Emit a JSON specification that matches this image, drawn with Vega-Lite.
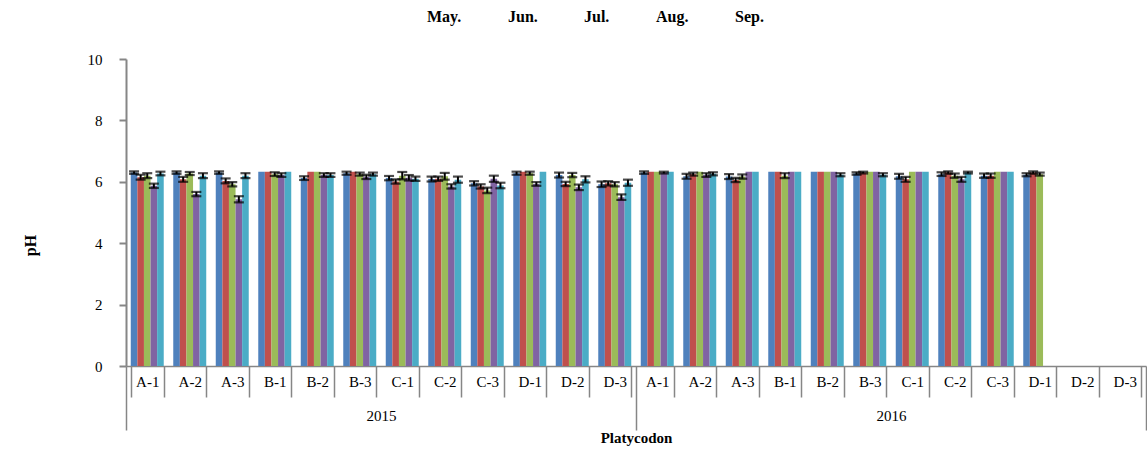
{
  "$schema": "https://vega.github.io/schema/vega-lite/v6.json",
  "width": 1020,
  "height": 307,
  "autosize": "none",
  "padding": {"left": 126, "top": 59, "right": 1, "bottom": 91},
  "background": "white",
  "config": {"view": {"stroke": null}, "font": "Times New Roman, Liberation Serif, serif"},
  "data": {"values": [
    {"yr":"2015","k":"2015 A-1","m":"May.","v":6.3,"lo":6.26,"hi":6.34},
    {"yr":"2015","k":"2015 A-1","m":"Jun.","v":6.15,"lo":6.07,"hi":6.23},
    {"yr":"2015","k":"2015 A-1","m":"Jul.","v":6.2,"lo":6.12,"hi":6.28},
    {"yr":"2015","k":"2015 A-1","m":"Aug.","v":5.87,"lo":5.8,"hi":5.94},
    {"yr":"2015","k":"2015 A-1","m":"Sep.","v":6.27,"lo":6.21,"hi":6.33},
    {"yr":"2015","k":"2015 A-2","m":"May.","v":6.3,"lo":6.26,"hi":6.34},
    {"yr":"2015","k":"2015 A-2","m":"Jun.","v":6.08,"lo":6.0,"hi":6.16},
    {"yr":"2015","k":"2015 A-2","m":"Jul.","v":6.27,"lo":6.22,"hi":6.32},
    {"yr":"2015","k":"2015 A-2","m":"Aug.","v":5.6,"lo":5.53,"hi":5.67},
    {"yr":"2015","k":"2015 A-2","m":"Sep.","v":6.2,"lo":6.12,"hi":6.28},
    {"yr":"2015","k":"2015 A-3","m":"May.","v":6.3,"lo":6.26,"hi":6.34},
    {"yr":"2015","k":"2015 A-3","m":"Jun.","v":6.03,"lo":5.95,"hi":6.11},
    {"yr":"2015","k":"2015 A-3","m":"Jul.","v":5.92,"lo":5.85,"hi":5.99},
    {"yr":"2015","k":"2015 A-3","m":"Aug.","v":5.43,"lo":5.33,"hi":5.53},
    {"yr":"2015","k":"2015 A-3","m":"Sep.","v":6.2,"lo":6.12,"hi":6.28},
    {"yr":"2015","k":"2015 B-1","m":"May.","v":6.33},
    {"yr":"2015","k":"2015 B-1","m":"Jun.","v":6.33},
    {"yr":"2015","k":"2015 B-1","m":"Jul.","v":6.25,"lo":6.19,"hi":6.31},
    {"yr":"2015","k":"2015 B-1","m":"Aug.","v":6.22,"lo":6.16,"hi":6.28},
    {"yr":"2015","k":"2015 B-1","m":"Sep.","v":6.33},
    {"yr":"2015","k":"2015 B-2","m":"May.","v":6.12,"lo":6.06,"hi":6.18},
    {"yr":"2015","k":"2015 B-2","m":"Jun.","v":6.33},
    {"yr":"2015","k":"2015 B-2","m":"Jul.","v":6.33},
    {"yr":"2015","k":"2015 B-2","m":"Aug.","v":6.22,"lo":6.16,"hi":6.28},
    {"yr":"2015","k":"2015 B-2","m":"Sep.","v":6.22,"lo":6.16,"hi":6.28},
    {"yr":"2015","k":"2015 B-3","m":"May.","v":6.28,"lo":6.23,"hi":6.33},
    {"yr":"2015","k":"2015 B-3","m":"Jun.","v":6.33},
    {"yr":"2015","k":"2015 B-3","m":"Jul.","v":6.25,"lo":6.2,"hi":6.3},
    {"yr":"2015","k":"2015 B-3","m":"Aug.","v":6.16,"lo":6.09,"hi":6.23},
    {"yr":"2015","k":"2015 B-3","m":"Sep.","v":6.25,"lo":6.2,"hi":6.3},
    {"yr":"2015","k":"2015 C-1","m":"May.","v":6.12,"lo":6.05,"hi":6.19},
    {"yr":"2015","k":"2015 C-1","m":"Jun.","v":6.01,"lo":5.94,"hi":6.08},
    {"yr":"2015","k":"2015 C-1","m":"Jul.","v":6.2,"lo":6.08,"hi":6.32},
    {"yr":"2015","k":"2015 C-1","m":"Aug.","v":6.13,"lo":6.04,"hi":6.22},
    {"yr":"2015","k":"2015 C-1","m":"Sep.","v":6.1,"lo":6.03,"hi":6.17},
    {"yr":"2015","k":"2015 C-2","m":"May.","v":6.09,"lo":6.01,"hi":6.17},
    {"yr":"2015","k":"2015 C-2","m":"Jun.","v":6.1,"lo":6.03,"hi":6.17},
    {"yr":"2015","k":"2015 C-2","m":"Jul.","v":6.18,"lo":6.07,"hi":6.29},
    {"yr":"2015","k":"2015 C-2","m":"Aug.","v":5.85,"lo":5.78,"hi":5.92},
    {"yr":"2015","k":"2015 C-2","m":"Sep.","v":6.07,"lo":5.97,"hi":6.17},
    {"yr":"2015","k":"2015 C-3","m":"May.","v":5.95,"lo":5.88,"hi":6.02},
    {"yr":"2015","k":"2015 C-3","m":"Jun.","v":5.85,"lo":5.78,"hi":5.92},
    {"yr":"2015","k":"2015 C-3","m":"Jul.","v":5.72,"lo":5.63,"hi":5.81},
    {"yr":"2015","k":"2015 C-3","m":"Aug.","v":6.1,"lo":6.0,"hi":6.2},
    {"yr":"2015","k":"2015 C-3","m":"Sep.","v":5.88,"lo":5.79,"hi":5.97},
    {"yr":"2015","k":"2015 D-1","m":"May.","v":6.28,"lo":6.23,"hi":6.33},
    {"yr":"2015","k":"2015 D-1","m":"Jun.","v":6.33},
    {"yr":"2015","k":"2015 D-1","m":"Jul.","v":6.28,"lo":6.23,"hi":6.33},
    {"yr":"2015","k":"2015 D-1","m":"Aug.","v":5.93,"lo":5.87,"hi":5.99},
    {"yr":"2015","k":"2015 D-1","m":"Sep.","v":6.33},
    {"yr":"2015","k":"2015 D-2","m":"May.","v":6.22,"lo":6.14,"hi":6.3},
    {"yr":"2015","k":"2015 D-2","m":"Jun.","v":5.93,"lo":5.86,"hi":6.0},
    {"yr":"2015","k":"2015 D-2","m":"Jul.","v":6.22,"lo":6.15,"hi":6.29},
    {"yr":"2015","k":"2015 D-2","m":"Aug.","v":5.82,"lo":5.73,"hi":5.91},
    {"yr":"2015","k":"2015 D-2","m":"Sep.","v":6.08,"lo":5.98,"hi":6.18},
    {"yr":"2015","k":"2015 D-3","m":"May.","v":5.92,"lo":5.83,"hi":6.01},
    {"yr":"2015","k":"2015 D-3","m":"Jun.","v":5.95,"lo":5.88,"hi":6.02},
    {"yr":"2015","k":"2015 D-3","m":"Jul.","v":5.92,"lo":5.85,"hi":5.99},
    {"yr":"2015","k":"2015 D-3","m":"Aug.","v":5.5,"lo":5.41,"hi":5.59},
    {"yr":"2015","k":"2015 D-3","m":"Sep.","v":5.97,"lo":5.87,"hi":6.07},
    {"yr":"2016","k":"2016 A-1","m":"May.","v":6.3,"lo":6.26,"hi":6.34},
    {"yr":"2016","k":"2016 A-1","m":"Jun.","v":6.33},
    {"yr":"2016","k":"2016 A-1","m":"Jul.","v":6.33},
    {"yr":"2016","k":"2016 A-1","m":"Aug.","v":6.3,"lo":6.27,"hi":6.33},
    {"yr":"2016","k":"2016 A-1","m":"Sep.","v":6.33},
    {"yr":"2016","k":"2016 A-2","m":"May.","v":6.18,"lo":6.1,"hi":6.26},
    {"yr":"2016","k":"2016 A-2","m":"Jun.","v":6.25,"lo":6.2,"hi":6.3},
    {"yr":"2016","k":"2016 A-2","m":"Jul.","v":6.33},
    {"yr":"2016","k":"2016 A-2","m":"Aug.","v":6.22,"lo":6.16,"hi":6.28},
    {"yr":"2016","k":"2016 A-2","m":"Sep.","v":6.26,"lo":6.21,"hi":6.31},
    {"yr":"2016","k":"2016 A-3","m":"May.","v":6.17,"lo":6.09,"hi":6.25},
    {"yr":"2016","k":"2016 A-3","m":"Jun.","v":6.06,"lo":5.99,"hi":6.13},
    {"yr":"2016","k":"2016 A-3","m":"Jul.","v":6.17,"lo":6.1,"hi":6.24},
    {"yr":"2016","k":"2016 A-3","m":"Aug.","v":6.33},
    {"yr":"2016","k":"2016 A-3","m":"Sep.","v":6.33},
    {"yr":"2016","k":"2016 B-1","m":"May.","v":6.33},
    {"yr":"2016","k":"2016 B-1","m":"Jun.","v":6.33},
    {"yr":"2016","k":"2016 B-1","m":"Jul.","v":6.2,"lo":6.12,"hi":6.28},
    {"yr":"2016","k":"2016 B-1","m":"Aug.","v":6.33},
    {"yr":"2016","k":"2016 B-1","m":"Sep.","v":6.33},
    {"yr":"2016","k":"2016 B-2","m":"May.","v":6.33},
    {"yr":"2016","k":"2016 B-2","m":"Jun.","v":6.33},
    {"yr":"2016","k":"2016 B-2","m":"Jul.","v":6.33},
    {"yr":"2016","k":"2016 B-2","m":"Aug.","v":6.33},
    {"yr":"2016","k":"2016 B-2","m":"Sep.","v":6.23,"lo":6.18,"hi":6.28},
    {"yr":"2016","k":"2016 B-3","m":"May.","v":6.27,"lo":6.23,"hi":6.31},
    {"yr":"2016","k":"2016 B-3","m":"Jun.","v":6.3,"lo":6.27,"hi":6.33},
    {"yr":"2016","k":"2016 B-3","m":"Jul.","v":6.33},
    {"yr":"2016","k":"2016 B-3","m":"Aug.","v":6.33},
    {"yr":"2016","k":"2016 B-3","m":"Sep.","v":6.23,"lo":6.18,"hi":6.28},
    {"yr":"2016","k":"2016 C-1","m":"May.","v":6.18,"lo":6.1,"hi":6.26},
    {"yr":"2016","k":"2016 C-1","m":"Jun.","v":6.08,"lo":6.0,"hi":6.16},
    {"yr":"2016","k":"2016 C-1","m":"Jul.","v":6.33},
    {"yr":"2016","k":"2016 C-1","m":"Aug.","v":6.33},
    {"yr":"2016","k":"2016 C-1","m":"Sep.","v":6.33},
    {"yr":"2016","k":"2016 C-2","m":"May.","v":6.25,"lo":6.19,"hi":6.31},
    {"yr":"2016","k":"2016 C-2","m":"Jun.","v":6.3,"lo":6.26,"hi":6.34},
    {"yr":"2016","k":"2016 C-2","m":"Jul.","v":6.2,"lo":6.13,"hi":6.27},
    {"yr":"2016","k":"2016 C-2","m":"Aug.","v":6.08,"lo":6.0,"hi":6.16},
    {"yr":"2016","k":"2016 C-2","m":"Sep.","v":6.3,"lo":6.27,"hi":6.33},
    {"yr":"2016","k":"2016 C-3","m":"May.","v":6.2,"lo":6.13,"hi":6.27},
    {"yr":"2016","k":"2016 C-3","m":"Jun.","v":6.2,"lo":6.13,"hi":6.27},
    {"yr":"2016","k":"2016 C-3","m":"Jul.","v":6.33},
    {"yr":"2016","k":"2016 C-3","m":"Aug.","v":6.33},
    {"yr":"2016","k":"2016 C-3","m":"Sep.","v":6.33},
    {"yr":"2016","k":"2016 D-1","m":"May.","v":6.23,"lo":6.18,"hi":6.28},
    {"yr":"2016","k":"2016 D-1","m":"Jun.","v":6.3,"lo":6.26,"hi":6.34},
    {"yr":"2016","k":"2016 D-1","m":"Jul.","v":6.25,"lo":6.2,"hi":6.3}
  ]},
  "layer": [
    {
      "encoding": {
        "x": {
          "field": "k", "type": "nominal",
          "scale": {
            "domain": ["2015 A-1","2015 A-2","2015 A-3","2015 B-1","2015 B-2","2015 B-3","2015 C-1","2015 C-2","2015 C-3","2015 D-1","2015 D-2","2015 D-3",
                       "2016 A-1","2016 A-2","2016 A-3","2016 B-1","2016 B-2","2016 B-3","2016 C-1","2016 C-2","2016 C-3","2016 D-1","2016 D-2","2016 D-3"],
            "paddingInner": 0.224, "paddingOuter": 0.112
          },
          "axis": {
            "title": "Platycodon", "titleFont": "Times New Roman, Liberation Serif, serif", "titleFontWeight": "bold", "titleFontSize": 15, "titleColor": "black",
            "titleY": 71, "titleBaseline": "middle",
            "tickBand": "extent", "tickSize": 31, "tickColor": "#868686", "tickWidth": 1.5,
            "domainColor": "#868686", "domainWidth": 1.5,
            "labelPadding": -22.5, "labelAngle": 0, "labelFont": "Times New Roman, Liberation Serif, serif", "labelFontSize": 15, "labelColor": "black",
            "labelExpr": "substring(datum.label, 5)"
          }
        },
        "xOffset": {"field": "m", "type": "nominal", "scale": {"domain": ["May.","Jun.","Jul.","Aug.","Sep."], "paddingInner": 0, "paddingOuter": 0}}
      },
      "layer": [
        {
          "mark": {"type": "bar"},
          "encoding": {
            "y": {
              "field": "v", "type": "quantitative", "title": "pH",
              "scale": {"domain": [0, 10], "nice": false},
              "axis": {
                "values": [0, 2, 4, 6, 8, 10], "grid": false,
                "titleFont": "Times New Roman, Liberation Serif, serif", "titleFontWeight": "bold", "titleFontSize": 16, "titleColor": "black",
                "titleX": -96, "titleY": 186, "titleBaseline": "middle",
                "tickSize": 7, "tickColor": "#868686", "tickWidth": 2,
                "domainColor": "#868686", "domainWidth": 2,
                "labelPadding": 17, "labelFont": "Times New Roman, Liberation Serif, serif", "labelFontSize": 15, "labelColor": "black"
              }
            },
            "color": {
              "field": "m", "type": "nominal",
              "scale": {"domain": ["May.","Jun.","Jul.","Aug.","Sep."], "range": ["#4F81BD","#C0504D","#9BBB59","#8064A2","#4BACC6"]},
              "legend": {
                "orient": "none", "legendX": 285, "legendY": -50, "direction": "horizontal", "title": null,
                "symbolSize": 0, "symbolOpacity": 0, "symbolStrokeWidth": 0, "labelOffset": 0, "columnPadding": 30,
                "labelFont": "Times New Roman, Liberation Serif, serif", "labelFontWeight": "bold", "labelFontSize": 16, "labelColor": "black"
              }
            }
          }
        },
        {
          "mark": {"type": "rule", "color": "black", "strokeWidth": 2},
          "encoding": {
            "y": {"field": "lo", "type": "quantitative", "title": "pH"},
            "y2": {"field": "hi"}
          }
        },
        {
          "mark": {"type": "tick", "color": "black", "thickness": 2.2, "size": 10},
          "encoding": {"y": {"field": "lo", "type": "quantitative", "title": "pH"}}
        },
        {
          "mark": {"type": "tick", "color": "black", "thickness": 2.2, "size": 10},
          "encoding": {"y": {"field": "hi", "type": "quantitative", "title": "pH"}}
        }
      ]
    },
    {
      "mark": {"type": "rule", "opacity": 0},
      "encoding": {
        "x": {
          "field": "yr", "type": "nominal",
          "scale": {"paddingInner": 0, "paddingOuter": 0},
          "axis": {
            "orient": "bottom", "title": null, "domain": false,
            "tickBand": "extent", "tickSize": 64, "tickColor": "#868686", "tickWidth": 1.5,
            "labelPadding": -21.5, "labelAngle": 0, "labelFont": "Times New Roman, Liberation Serif, serif", "labelFontSize": 15, "labelColor": "black"
          }
        }
      }
    }
  ],
  "resolve": {"scale": {"x": "independent"}, "axis": {"x": "independent"}}
}
